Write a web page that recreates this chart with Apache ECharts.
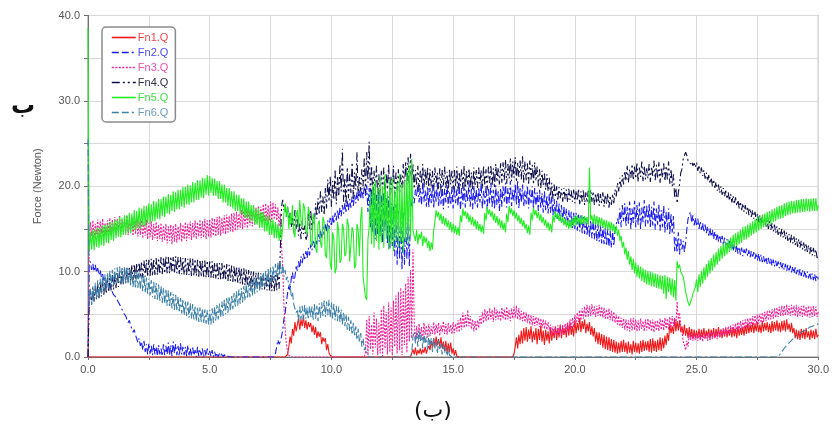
<!DOCTYPE html>
<html>
<head>
<meta charset="utf-8">
<script src="https://cdn.jsdelivr.net/npm/echarts@6/dist/echarts.min.js"></script>
<style>
  html, body { margin: 0; padding: 0; background: #ffffff; }
  #chart { width: 832px; height: 434px; }
</style>
</head>
<body>
<div id="chart"></div>
<script>
// Normal force of each contact (N), sampled every 0.05 s from 0 to 30 s.
// One row per second (20 samples), plus the final sample at 30 s.
const fn1 = [
  0,0,0,0,0,0,0,0,0,0,0,0,0,0,0,0,0,0,0,0,
  0,0,0,0,0,0,0,0,0,0,0,0,0,0,0,0,0,0,0,0,
  0,0,0,0,0,0,0,0,0,0,0,0,0,0,0,0,0,0,0,0,
  0,0,0,0,0,0,0,0,0,0,0,0,0,0,0,0,0,0,0,0,
  0,0,0,0,0,0,0,0,0,0,0,0,0,0,0,0,0,0,0,0,
  0,0,0,0,0,0,0,0,0,0,0,0,0,0,0,0,0,0,0,0,
  0,0,0,0,0,0,0,0,0,0,0,0,0,0,0,0,0,0,0,0,
  0,0,0,0,0,0,0,0,0,0,0,0,0,0,0,0,0,0,0,0,
  0,0,0,0, 0.3,1.2, 2.4,1.6, 3.3,2.5, 4.1,3.0, 3.8,4.6, 3.2,4.4, 3.6,4.8, 3.4,4.3,
  3.2,4.1, 3.5,4.0, 2.9,3.7, 2.6,3.5, 2.2,3.0, 2.4,2.9, 1.5,2.3, 1.8,2.2, 0.8,1.5, 0.5,0.2,
  0,0,0,0,0,0,0,0,0,0,0,0,0,0,0,0,0,0,0,0,
  0,0,0,0,0,0,0,0,0,0,0,0,0,0,0,0,0,0,0,0,
  0,0,0,0,0,0,0,0,0,0,0,0,0,0,0,0,0,0,0,0,
  0,0,0,0,0,0, 0.2,0.9, 0.3,1.1, 0.2,0.8, 0.4,1.0, 0.3,0.9, 0.5,1.2, 0.4,1.0,
  1.3,0.8, 1.9,1.1, 2.2,1.2, 2.4,1.4, 2.1,1.2, 2.3,1.0, 1.8,0.7, 1.9,0.5, 1.6,0.6, 1.7,0.4,
  1.0,0.2, 0.8,0.1, 0,0,0,0,0,0,0,0,0,0,0,0,0,0,0,0,
  0,0,0,0,0,0,0,0,0,0,0,0,0,0,0,0,0,0,0,0,
  0,0,0,0,0,0,0,0,0,0, 0.4,1.2, 2.3,1.0, 2.6,1.5, 3.1,1.6, 3.4,1.9,
  3.5,1.8, 3.2,2.1, 3.6,1.7, 3.0,2.0, 3.4,1.5, 3.3,2.0, 3.7,1.8, 3.1,1.4, 3.2,1.9, 3.0,1.6,
  3.4,1.9, 3.1,2.2, 3.6,2.0, 3.3,2.3, 3.8,2.2, 3.5,2.6, 3.4,2.3, 3.9,2.5, 4.0,2.6, 3.6,2.4,
  4.3,2.8, 4.0,3.1, 4.6,2.9, 4.2,3.3, 4.4,2.8, 3.9,3.0, 4.1,2.6, 3.6,2.4, 3.4,1.8, 2.9,1.5,
  2.9,1.4, 2.7,1.1, 2.6,0.9, 2.4,0.8, 2.3,0.7, 2.1,0.6, 2.0,0.5, 1.8,0.4, 1.7,0.5, 1.9,0.6,
  2.0,0.6, 1.7,0.4, 1.8,0.5, 1.5,0.3, 1.9,0.6, 1.7,0.5, 1.6,0.4, 1.9,0.6, 2.0,0.7, 1.8,0.8,
  1.9,0.6, 2.1,0.5, 2.2,0.7, 1.9,0.6, 2.0,0.8, 2.3,0.7, 2.2,1.0, 2.5,1.4, 2.8,1.9, 3.9,2.8,
  3.6,2.7, 4.5,3.0, 4.2,3.1, 4.3,2.9, 3.6,2.6, 3.8,2.5, 3.4,2.2, 3.5,2.3, 3.3,2.1, 3.2,2.2,
  3.1,2.2, 3.3,2.1, 3.2,2.3, 3.4,2.2, 3.1,2.4, 3.3,2.1, 3.2,2.3, 3.4,2.2, 3.3,2.4, 3.5,2.3,
  3.2,2.2, 3.3,2.4, 3.4,2.3, 3.2,2.5, 3.4,2.3, 3.5,2.4, 3.3,2.2, 3.6,2.5, 3.4,2.6, 3.5,2.5,
  3.7,2.7, 3.9,2.8, 3.8,2.9, 4.0,2.8, 3.9,3.0, 4.1,2.9, 3.8,2.8, 4.2,3.0, 4.0,3.1, 4.1,2.9,
  3.9,2.8, 4.2,3.0, 4.1,3.1, 4.3,3.0, 4.0,2.9, 4.2,3.1, 4.3,3.0, 4.4,3.2, 3.9,2.9, 4.0,2.8,
  3.4,2.2, 3.2,2.1, 3.1,2.0, 3.3,2.2, 3.2,2.1, 3.4,2.3, 3.0,2.0, 3.2,2.2, 3.1,2.1, 3.3,2.3,
  2.6
];

const fn2 = [
  0,10.6, 11.2,10.2, 10.9,10.0, 10.8,9.9, 10.4,9.6, 10.2,9.3, 9.7,8.9, 9.3,8.6, 8.9,8.2, 8.7,7.9,
  7.9,7.3, 7.5,7.0, 6.9,6.4, 6.5,5.9, 5.8,5.2, 5.4,4.8, 4.6,4.0, 4.3,3.7, 3.5,2.9, 3.2,2.6,
  2.4,1.7, 2.2,1.3, 1.8,0.8, 1.9,0.6, 1.5,0.3, 1.6,0.4, 1.3,0.2, 1.5,0.3, 1.2,0.1, 1.4,0.3,
  1.0,0.1, 1.5,0.2, 1.3,0.3, 1.7,0.2, 1.4,0.1, 1.8,0.4, 1.5,0.2, 1.3,0.1, 1.6,0.3, 1.2,0.2,
  1.2,0.1, 1.4,0.2, 1.0,0.1, 1.1,0.2, 0.8,0.0, 1.2,0.1, 0.9,0.2, 1.0,0.0, 0.8,0.1, 1.0,0.2,
  0.7,0.1, 0.8,0.0, 0.6,0.1, 0.5,0.0, 0.4,0.1, 0.5,0.0, 0.3,0.0, 0.2,0.1, 0.1,0, 0,0,
  0,0,0,0,0,0,0,0,0,0,0,0,0,0,0,0,0,0,0,0,
  0,0,0,0,0,0,0,0,0,0,0,0,0,0, 0.4,1.2, 2.0,1.5, 1.8,2.4,
  3.2,4.5, 5.2,6.4, 7.5,8.3, 7.8,9.2, 9.9,8.7, 9.4,10.6, 10.1,11.2, 10.4,11.8, 11.0,12.1, 11.3,12.4,
  11.6,12.8, 11.9,13.2, 12.5,13.6, 12.8,14.0, 13.2,14.4, 13.5,14.9, 13.9,15.3, 14.3,15.6, 14.6,16.0, 15.0,16.3,
  15.3,16.6, 15.6,16.9, 16.0,17.2, 16.2,17.5, 16.5,17.8, 16.8,18.0, 17.0,18.3, 17.2,18.5, 17.5,18.8, 17.7,19.0,
  18.0,19.3, 18.3,19.5, 18.5,19.8, 18.6,20.0, 18.9,20.1, 17.0,19.8, 15.2,19.6, 14.6,19.4, 13.8,19.0, 14.4,19.5,
  14.1,18.9, 13.4,19.2, 14.8,18.6, 13.2,18.8, 12.6,18.0, 13.0,17.6, 11.8,17.9, 10.8,17.2, 11.4,16.6, 10.2,16.9,
  10.8,15.8, 11.5,16.5, 10.6,17.2, 17.4,18.8, 18.0,19.6, 18.8,20.2, 18.1,19.8, 17.8,20.4, 18.2,19.5, 17.6,20.0,
  17.5,19.8, 18.0,20.3, 17.4,19.6, 18.2,20.5, 17.6,19.4, 17.9,20.1, 17.3,19.7, 18.1,20.2, 17.5,19.3, 17.8,19.9,
  17.4,20.0, 18.0,19.6, 17.7,20.4, 17.2,19.8, 17.9,20.2, 17.5,19.5, 18.2,20.5, 17.6,19.7, 17.3,20.1, 17.8,19.6,
  17.5,19.9, 18.1,20.3, 17.4,19.5, 17.9,20.0, 17.2,19.7, 18.0,20.4, 17.6,19.6, 17.3,20.1, 17.8,19.4, 17.1,19.8,
  17.6,20.0, 18.2,20.4, 17.5,19.8, 18.0,20.6, 17.7,19.6, 18.3,20.3, 17.8,20.7, 17.4,19.9, 18.1,20.2, 17.6,19.5,
  17.9,20.1, 17.4,19.6, 18.0,20.0, 17.3,19.8, 17.7,19.3, 17.1,19.6, 17.5,19.2, 16.9,19.4, 17.2,18.9, 16.8,19.1,
  16.9,18.8, 16.6,18.5, 16.4,18.3, 16.2,18.0, 16.0,17.8, 15.8,17.6, 15.6,17.4, 15.4,17.2, 15.3,17.0, 15.1,16.9,
  15.0,16.9, 14.8,16.7, 14.7,16.6, 14.5,16.4, 14.4,16.3, 14.2,16.1, 14.1,16.0, 13.9,15.9, 13.8,15.7, 13.6,15.6,
  13.5,15.4, 13.3,15.3, 13.2,15.1, 13.0,15.0, 12.9,14.8, 12.8,14.7, 13.0,14.9, 14.8,16.2, 15.6,17.4, 15.2,17.8,
  15.9,18.0, 15.3,17.6, 15.6,18.2, 15.0,17.4, 15.7,18.3, 15.2,17.8, 15.5,18.1, 15.0,17.5, 15.8,18.4, 15.3,17.7,
  15.6,18.0, 15.1,17.6, 15.4,18.2, 14.9,17.4, 15.5,17.9, 14.8,17.2, 15.2,17.7, 14.6,17.0, 14.9,17.4, 14.3,16.8,
  14.6,16.5, 12.4,14.0, 12.2,14.6, 12.0,13.8, 12.6,13.6, 12.3,13.4, 15.0,16.2, 16.1,17.0, 15.7,16.6, 15.4,16.3,
  15.3,16.2, 15.0,15.9, 14.9,15.7, 14.6,15.5, 14.5,15.3, 14.2,15.1, 14.1,14.9, 13.8,14.7, 13.7,14.5, 13.5,14.3,
  13.4,14.2, 13.1,14.0, 13.0,13.8, 12.8,13.6, 12.7,13.4, 12.4,13.3, 12.3,13.1, 12.1,12.9, 12.0,12.8, 11.8,12.6,
  12.0,12.7, 11.8,12.5, 11.7,12.4, 11.6,12.3, 11.5,12.2, 11.3,12.1, 11.2,12.0, 11.1,11.8, 11.0,11.7, 10.9,11.6,
  10.8,11.5, 10.7,11.4, 10.6,11.3, 10.5,11.2, 10.4,11.1, 10.3,11.0, 10.2,10.9, 10.1,10.8, 10.0,10.7, 9.9,10.6,
  9.8,10.5, 9.7,10.4, 9.6,10.3, 9.5,10.2, 9.4,10.1, 9.3,10.0, 9.2,9.9, 9.1,9.8, 9.0,9.7, 8.9,9.6,
  9.1
];

const fn3 = [
  0,13.6, 15.8,14.2, 16.0,13.9, 15.6,14.4, 16.1,14.0, 15.9,14.5, 16.2,14.1, 15.7,14.3, 16.0,14.6, 16.3,14.2,
  16.1,14.5, 16.4,14.3, 16.2,14.7, 16.5,14.4, 16.0,14.6, 16.3,14.8, 16.6,14.3, 16.1,14.5, 16.4,14.2, 15.9,14.4,
  16.2,14.1, 15.9,14.3, 16.0,13.9, 15.8,14.2, 16.1,13.8, 15.7,14.0, 15.9,13.7, 15.6,13.9, 15.8,13.6, 15.5,13.8,
  15.7,13.5, 15.4,13.7, 15.6,13.3, 15.3,13.6, 15.5,13.2, 15.4,13.5, 15.6,13.4, 15.3,13.7, 15.7,13.5, 15.5,13.8,
  15.8,13.6, 15.6,13.9, 15.9,13.7, 15.7,14.0, 16.0,13.8, 15.8,14.1, 16.1,13.9, 15.9,14.0, 16.2,13.8, 16.0,14.1,
  16.1,14.0, 16.3,14.2, 16.2,14.1, 16.4,14.3, 16.5,14.2, 16.3,14.5, 16.6,14.4, 16.7,14.6, 16.5,14.7, 16.8,14.6,
  16.9,14.8, 17.0,14.9, 16.8,15.1, 17.2,15.0, 17.1,15.2, 17.3,15.1, 17.4,15.4, 17.2,15.3, 17.6,15.5, 17.5,15.6,
  17.7,15.5, 17.6,15.8, 17.9,15.7, 18.0,15.9, 17.8,16.0, 18.2,15.8, 18.1,16.1, 17.9,16.0, 17.5,15.3, 16.8,13.0,
  10.5,6.0, 3.2,1.5, 0.6,0.2, 0,0,0,0,0,0,0,0,0,0,0,0,0,0,
  0,0,0,0,0,0,0,0,0,0,0,0,0,0,0,0,0,0,0,0,
  0,0,0,0,0,0,0,0,0,0,0,0,0,0,0,0,0,0,0,0,
  0,0,0,0,0,0,0,0, 0.6,4.4, 0.2,4.8, 0.9,3.8, 0.3,5.2, 1.1,4.5, 0.2,4.0,
  0.4,5.6, 0.1,6.0, 1.0,5.3, 0.3,6.4, 0.6,5.8, 0.2,6.6, 1.2,7.2, 0.4,7.6, 0.8,8.1, 0.2,7.8,
  1.4,8.6, 0.5,9.4, 1.8,10.2, 2.2,12.6, 4.1,1.8, 3.6,2.2, 3.9,2.4, 3.5,2.0, 4.0,2.6, 3.7,2.3,
  3.9,2.5, 3.6,2.7, 4.1,2.6, 3.8,2.8, 4.0,2.5, 3.7,2.9, 4.2,2.7, 3.9,2.6, 4.0,2.9, 3.8,2.7,
  4.1,2.8, 3.9,3.0, 4.3,2.9, 4.6,3.2, 5.2,3.4, 4.9,3.5, 5.5,3.6, 4.8,3.3, 4.4,3.0, 4.2,3.1,
  4.3,3.4, 4.8,3.8, 5.3,4.0, 5.6,4.2, 5.4,4.3, 5.7,4.4, 5.5,4.1, 5.8,4.3, 5.6,4.4, 5.4,4.2,
  5.8,4.5, 5.6,4.3, 5.9,4.4, 5.5,4.2, 5.7,4.5, 5.9,4.6, 6.0,4.4, 5.7,4.3, 5.4,4.2, 5.3,4.1,
  5.2,4.0, 5.0,3.8, 4.9,3.7, 4.8,3.6, 4.7,3.7, 4.6,3.5, 4.5,3.4, 4.4,3.3, 4.3,3.2, 4.1,3.1,
  3.8,2.7, 3.6,2.6, 3.5,2.5, 3.7,2.7, 3.6,2.5, 3.8,2.6, 3.9,2.8, 4.1,3.0, 4.4,3.3, 4.6,3.5,
  4.9,3.9, 5.2,4.1, 5.5,4.3, 5.7,4.5, 5.9,4.6, 6.1,4.7, 6.0,4.8, 6.2,4.9, 5.9,4.7, 6.0,4.8,
  6.1,4.7, 5.9,4.6, 5.8,4.5, 5.6,4.4, 5.7,4.3, 5.4,4.2, 5.3,4.0, 5.0,3.8, 4.8,3.6, 4.6,3.4,
  4.5,3.2, 4.4,3.1, 4.3,3.0, 4.5,3.1, 4.6,3.2, 4.4,3.0, 4.3,3.1, 4.5,3.3, 4.2,3.0, 4.4,3.1,
  4.5,3.2, 4.3,3.0, 4.4,2.9, 4.2,3.1, 4.3,3.0, 4.5,3.2, 4.4,3.1, 4.6,3.3, 4.5,3.2, 4.7,3.4,
  4.8,3.6, 4.6,3.5, 6.5,4.4, 5.2,3.6, 3.0,1.8, 1.4,0.8, 1.9,1.2, 2.8,2.0, 2.6,1.9, 2.8,2.0,
  2.7,1.9, 2.8,2.0, 2.6,1.8, 2.9,2.1, 2.7,1.9, 2.8,2.0, 2.9,2.1, 3.0,2.2, 2.9,2.1, 3.1,2.3,
  3.2,2.4, 3.4,2.5, 3.5,2.6, 3.6,2.7, 3.7,2.8, 3.8,2.9, 3.9,3.0, 4.1,3.1, 4.2,3.2, 4.3,3.3,
  4.4,3.4, 4.5,3.5, 4.6,3.6, 4.8,3.7, 4.9,3.8, 5.0,3.9, 5.1,4.0, 5.2,4.1, 5.3,4.2, 5.4,4.3,
  5.5,4.4, 5.6,4.5, 5.7,4.6, 5.8,4.7, 5.9,4.8, 6.0,4.8, 6.0,4.9, 6.1,4.9, 6.0,4.8, 6.1,4.9,
  6.0,4.8, 6.1,4.7, 5.9,4.8, 6.0,4.7, 6.1,4.8, 5.9,4.7, 6.0,4.6, 5.9,4.7, 6.0,4.8, 5.9,4.7,
  5.3
];

const fn4 = [
  0,6.0, 7.8,6.2, 8.1,6.5, 8.3,6.7, 8.6,6.9, 8.8,7.1, 9.0,7.3, 9.1,7.4, 9.3,7.6, 9.4,7.8,
  9.6,7.9, 9.7,8.1, 9.9,8.2, 10.0,8.4, 10.2,8.5, 10.3,8.7, 10.5,8.8, 10.6,8.9, 10.8,9.0, 10.9,9.1,
  11.0,9.2, 11.1,9.3, 11.2,9.3, 11.3,9.4, 11.4,9.4, 11.4,9.5, 11.5,9.5, 11.5,9.6, 11.6,9.6, 11.6,9.7,
  11.7,9.7, 11.7,9.8, 11.8,9.8, 11.7,9.8, 11.8,9.9, 11.7,9.8, 11.8,9.8, 11.7,9.7, 11.7,9.7, 11.6,9.6,
  11.6,9.6, 11.5,9.6, 11.6,9.5, 11.5,9.5, 11.5,9.5, 11.4,9.4, 11.4,9.4, 11.3,9.4, 11.3,9.3, 11.3,9.3,
  11.2,9.3, 11.2,9.2, 11.1,9.2, 11.1,9.1, 11.0,9.1, 11.0,9.0, 10.9,9.0, 10.9,8.9, 10.8,8.9, 10.7,8.8,
  10.7,8.7, 10.6,8.7, 10.5,8.6, 10.4,8.5, 10.4,8.4, 10.3,8.3, 10.2,8.3, 10.1,8.2, 10.0,8.1, 9.9,8.0,
  9.9,8.0, 9.8,7.9, 9.7,7.9, 9.7,7.8, 9.6,7.8, 9.6,7.7, 9.5,7.7, 9.6,7.8, 9.8,8.0, 12.5,17.6,
  18.4,17.2, 17.8,16.4, 17.6,15.8, 16.9,15.2, 16.4,14.6, 17.2,15.0, 16.6,14.2, 15.8,13.8, 16.0,14.4, 15.4,13.6,
  14.2,16.8, 15.0,17.2, 14.8,16.4, 15.6,18.0, 16.2,18.6, 16.8,19.4, 17.0,18.8, 16.6,19.8, 17.4,20.8, 18.2,21.2,
  17.6,20.6, 18.4,22.0, 17.9,21.2, 18.8,22.6, 19.4,24.4, 18.2,21.0, 17.6,22.2, 18.6,21.4, 19.2,22.8, 18.4,21.6,
  19.6,24.0, 18.8,21.2, 19.4,22.0, 20.0,23.4, 19.2,24.0, 20.4,25.2, 19.0,22.4, 18.8,21.8, 19.4,22.4, 18.6,21.4,
  18.9,21.8, 19.4,22.2, 18.7,21.5, 19.6,22.6, 18.8,21.2, 19.2,22.4, 18.6,21.6, 19.5,22.0, 19.0,21.4, 19.8,22.6,
  19.6,22.9, 20.2,23.4, 19.8,23.8, 20.4,22.6, 19.7,21.9, 20.2,22.4, 19.5,21.8, 20.3,22.6, 19.8,22.0, 20.1,22.2,
  19.6,22.0, 20.0,21.8, 19.5,22.2, 20.2,21.6, 19.7,22.1, 19.4,21.9, 20.1,22.3, 19.8,21.7, 19.3,22.0, 20.2,21.8,
  19.6,21.9, 20.0,22.3, 19.4,21.7, 20.1,22.0, 19.7,22.4, 19.5,21.8, 20.2,22.1, 19.8,21.6, 19.5,22.2, 20.0,21.9,
  19.8,22.2, 20.3,21.9, 19.7,22.4, 20.1,22.0, 19.6,22.3, 20.4,22.5, 20.0,22.1, 19.8,22.6, 20.5,22.2, 20.2,22.7,
  20.4,22.8, 20.7,23.1, 20.3,22.6, 20.9,23.3, 20.6,22.9, 21.0,23.4, 20.5,22.8, 21.1,23.0, 20.8,23.5, 20.4,22.9,
  20.7,22.7, 20.3,23.0, 20.8,22.5, 20.2,22.8, 20.6,22.3, 20.0,22.0, 19.8,21.8, 20.1,21.5, 19.6,21.4, 19.4,21.0,
  18.8,20.4, 18.5,20.2, 18.7,20.0, 18.3,19.9, 18.6,19.7, 18.2,19.8, 18.5,19.6, 18.1,19.7, 18.4,19.5, 18.2,19.6,
  18.0,19.5, 18.3,19.7, 17.9,19.4, 18.2,19.6, 17.8,19.3, 18.1,19.5, 17.9,19.6, 18.2,19.4, 17.8,19.2, 18.0,19.3,
  17.7,19.1, 18.0,19.3, 17.6,19.0, 17.9,19.2, 17.5,18.9, 17.8,19.1, 18.0,19.6, 18.8,20.4, 19.4,21.0, 19.9,21.3,
  20.2,21.8, 20.6,22.4, 20.4,22.0, 21.0,22.6, 20.7,22.3, 20.9,22.8, 20.5,22.2, 21.1,22.9, 20.6,22.4, 20.8,22.1,
  20.9,22.6, 20.5,22.3, 21.2,23.0, 20.7,22.5, 20.9,22.8, 20.4,22.2, 21.0,22.7, 20.6,22.4, 20.8,22.9, 20.3,22.0,
  20.0,21.4, 18.6,19.8, 18.0,19.2, 20.2,21.6, 22.0,23.2, 23.0,24.0, 23.6,23.0, 23.2,22.6, 22.9,22.4, 22.7,22.2,
  22.8,21.8, 22.5,21.5, 22.2,21.2, 21.9,20.9, 21.6,20.6, 21.3,20.3, 21.0,20.0, 20.8,19.8, 20.5,19.5, 20.2,19.2,
  20.0,19.0, 19.8,18.8, 19.5,18.5, 19.3,18.3, 19.1,18.1, 18.9,17.9, 18.7,17.7, 18.4,17.4, 18.2,17.2, 18.0,17.0,
  17.8,16.8, 17.6,16.6, 17.4,16.4, 17.2,16.2, 17.0,16.0, 16.8,15.8, 16.6,15.6, 16.4,15.4, 16.2,15.2, 16.0,15.0,
  15.9,14.9, 15.7,14.7, 15.5,14.5, 15.3,14.3, 15.1,14.1, 15.0,14.0, 14.8,13.8, 14.6,13.6, 14.4,13.4, 14.3,13.3,
  14.1,13.1, 13.9,12.9, 13.8,12.8, 13.6,12.6, 13.4,12.4, 13.3,12.3, 13.1,12.1, 12.9,11.9, 12.8,11.8, 12.6,11.6,
  12.0
];

const fn5 = [
  38.5,12.4, 14.6,12.6, 14.9,12.5, 14.8,12.9, 15.2,12.8, 15.1,13.1, 15.4,13.0, 15.5,13.4, 15.5,13.3, 15.8,13.7,
  15.8,13.6, 16.1,13.9, 16.0,14.1, 16.4,14.0, 16.3,14.3, 16.6,14.3, 16.6,14.6, 16.9,14.5, 16.8,14.9, 17.2,14.8,
  17.1,15.1, 17.5,15.0, 17.4,15.4, 17.7,15.3, 17.7,15.7, 18.0,15.6, 17.9,15.9, 18.3,15.9, 18.2,16.2, 18.5,16.1,
  18.5,16.5, 18.8,16.4, 18.8,16.8, 19.1,16.7, 19.0,17.1, 19.4,17.0, 19.3,17.3, 19.6,17.3, 19.6,17.6, 19.9,17.5,
  19.9,17.9, 20.2,17.8, 20.1,18.1, 20.5,18.1, 20.4,18.4, 20.7,18.4, 20.7,18.7, 21.0,18.6, 20.9,19.0, 21.3,18.9,
  21.2,19.2, 21.0,18.9, 20.9,18.9, 20.6,18.5, 20.6,18.5, 20.2,18.1, 20.2,18.1, 19.8,17.7, 19.8,17.6, 19.4,17.4,
  19.4,17.1, 19.0,17.1, 19.0,16.7, 18.6,16.7, 18.6,16.3, 18.2,16.3, 18.2,15.9, 17.8,15.9, 17.8,15.5, 17.4,15.5,
  17.4,15.1, 17.0,15.1, 17.0,14.7, 16.6,14.7, 16.6,14.3, 16.2,14.3, 16.1,13.9, 15.8,13.9, 15.6,13.6, 15.3,13.7,
  15.2,16.8, 18.0,16.4, 17.6,15.0, 16.8,15.6, 17.8,14.6, 14.0,16.6, 17.2,15.2, 18.4,16.0, 15.2,18.0, 17.4,14.8,
  14.4,17.6, 16.8,13.4, 13.0,16.8, 16.2,12.8, 12.2,15.6, 16.0,13.4, 12.8,16.4, 15.8,12.0, 11.6,15.4, 14.8,11.0,
  10.2,14.6, 13.8,9.8, 10.4,15.8, 14.8,11.0, 11.4,15.6, 15.0,11.8, 12.2,16.2, 15.4,11.2, 11.0,15.2, 14.6,10.4,
  10.8,15.6, 14.8,11.8, 16.2,17.6, 9.4,8.2, 7.0,6.7, 13.8,15.2, 19.4,13.2, 20.2,12.8, 20.6,13.6, 19.8,12.6,
  21.2,13.4, 20.0,12.8, 21.4,13.8, 19.4,12.6, 20.8,13.2, 21.0,12.4, 19.6,13.6, 20.4,12.8, 21.4,13.4, 20.2,12.2,
  20.6,13.6, 21.8,13.2, 22.4,14.2, 23.2,14.8, 14.6,13.6, 14.9,13.2, 14.4,13.8, 14.7,13.0, 14.2,13.4, 14.0,12.8,
  13.6,12.4, 13.4,12.6, 14.8,15.8, 17.2,16.4, 17.0,16.0, 16.8,15.6, 16.5,15.4, 16.3,15.2, 16.0,14.9, 15.8,14.6,
  15.6,14.5, 15.4,14.3, 15.2,14.2, 16.6,15.8, 17.4,16.5, 17.1,16.2, 16.9,15.8, 16.6,15.5, 16.4,15.3, 16.1,15.0,
  15.9,14.8, 15.6,14.6, 15.4,14.4, 16.9,16.0, 17.6,16.7, 17.3,16.4, 17.1,16.0, 16.8,15.7, 16.5,15.4, 16.2,15.1,
  16.0,14.9, 15.7,14.6, 16.8,15.8, 17.7,16.8, 17.4,16.5, 17.2,16.2, 16.9,15.9, 16.6,15.6, 16.3,15.3, 16.0,15.0,
  15.6,14.5, 15.4,14.3, 16.9,16.0, 17.5,16.6, 17.2,16.3, 17.0,16.0, 16.7,15.7, 16.4,15.4, 16.1,15.1, 15.8,14.8,
  15.6,14.6, 16.6,15.8, 17.1,16.2, 16.9,15.9, 16.7,15.7, 16.4,15.4, 16.2,15.2, 16.0,15.0, 16.1,15.1, 16.3,15.3,
  16.5,15.4, 16.6,15.5, 16.4,15.5, 16.6,15.6, 16.5,15.6, 16.4,15.4, 22.2,16.0, 16.6,15.6, 16.7,15.5, 16.5,15.4,
  16.4,15.3, 16.3,15.2, 16.1,15.0, 16.0,14.9, 15.9,14.8, 15.8,14.7, 15.6,14.5, 15.4,14.2, 14.9,13.6, 14.2,12.8,
  13.5,12.0, 12.8,11.4, 12.4,10.8, 11.8,10.2, 11.5,9.8, 11.1,9.4, 10.8,9.2, 10.6,8.9, 10.4,8.7, 10.2,8.5,
  10.1,8.4, 10.0,8.3, 9.9,8.2, 9.8,8.1, 9.7,8.0, 9.6,7.9, 9.5,7.4, 9.6,6.8, 9.4,7.6, 9.3,7.2,
  9.2,7.0, 9.0,6.6, 11.2,10.4, 10.8,10.0, 10.2,9.4, 8.6,7.6, 7.0,6.4, 6.0,5.8, 6.8,7.4, 7.8,8.2,
  9.1,7.6, 9.7,8.2, 10.1,8.6, 10.5,9.0, 10.9,9.4, 11.3,9.8, 11.6,10.1, 12.0,10.5, 12.3,10.8, 12.7,11.2,
  13.0,11.5, 13.3,11.8, 13.5,12.0, 13.8,12.3, 14.0,12.5, 14.3,12.8, 14.5,13.0, 14.7,13.2, 14.9,13.4, 15.2,13.7,
  15.3,13.8, 15.5,14.0, 15.7,14.2, 15.9,14.4, 16.1,14.6, 16.3,14.8, 16.5,15.0, 16.7,15.2, 16.8,15.3, 17.0,15.5,
  17.1,15.6, 17.3,15.8, 17.4,15.9, 17.6,16.1, 17.7,16.2, 17.8,16.3, 18.0,16.5, 18.1,16.6, 18.2,16.7, 18.3,16.8,
  18.3,16.8, 18.4,16.9, 18.4,16.9, 18.5,17.0, 18.5,17.0, 18.6,17.1, 18.5,17.0, 18.6,17.1, 18.6,17.1, 18.6,17.1,
  17.8
];

const fn6 = [
  25.5,5.8, 8.0,6.1, 8.3,6.5, 8.7,6.8, 9.0,7.1, 9.2,7.4, 9.5,7.7, 9.7,7.9, 9.9,8.1, 10.1,8.3,
  10.2,8.4, 10.4,8.6, 10.5,8.6, 10.6,8.7, 10.6,8.7, 10.5,8.6, 10.4,8.5, 10.3,8.4, 10.1,8.2, 10.0,8.0,
  10.0,8.1, 9.9,7.9, 9.7,7.7, 9.5,7.5, 9.3,7.4, 9.2,7.2, 9.0,7.0, 8.8,6.8, 8.7,6.7, 8.5,6.5,
  8.3,6.3, 8.1,6.2, 8.0,6.0, 7.8,5.8, 7.6,5.7, 7.4,5.5, 7.3,5.4, 7.1,5.2, 6.9,5.1, 6.8,4.9,
  6.6,4.8, 6.5,4.6, 6.3,4.5, 6.2,4.4, 6.0,4.2, 5.9,4.1, 5.8,4.0, 5.7,3.9, 5.6,3.9, 5.5,3.8,
  5.5,3.8, 5.7,4.0, 5.9,4.2, 6.1,4.4, 6.3,4.6, 6.5,4.8, 6.7,5.0, 6.9,5.2, 7.1,5.4, 7.3,5.6,
  7.5,5.8, 7.7,6.0, 7.9,6.2, 8.1,6.4, 8.3,6.6, 8.5,6.8, 8.7,7.0, 8.9,7.2, 9.1,7.4, 9.3,7.6,
  9.5,7.8, 9.7,8.0, 9.9,8.2, 10.1,8.4, 10.3,8.6, 10.5,8.8, 10.7,9.0, 10.9,9.2, 11.1,9.5, 11.0,9.6,
  10.8,9.4, 10.2,9.0, 9.4,8.2, 8.6,7.0, 7.6,6.2, 6.4,5.2, 5.6,4.2, 5.9,4.4, 6.0,4.3, 6.1,4.5,
  5.8,4.4, 6.0,4.6, 5.9,4.3, 6.2,4.5, 6.0,4.2, 6.3,4.6, 6.4,4.8, 6.6,4.7, 6.5,4.9, 6.7,4.6,
  6.4,4.5, 6.2,4.3, 6.0,4.2, 5.9,4.1, 5.6,3.8, 5.3,3.6, 5.0,3.2, 4.7,3.0, 4.3,2.6, 4.0,2.4,
  3.6,2.0, 3.3,1.7, 2.8,1.2, 2.2,0.8, 1.2,0.2, 0,0,0,0,0,0,0,0,0,0,
  0,0,0,0,0,0,0,0,0,0,0,0,0,0,0,0,0,0,0,0,
  0,0,0,0,0,0, 0.6,2.4, 3.0,1.6, 2.8,1.2, 3.2,1.8, 2.6,1.0, 2.9,1.5, 2.4,0.8,
  2.6,1.2, 2.2,0.6, 2.3,1.0, 1.8,0.4, 2.0,0.8, 1.5,0.3, 1.6,0.5, 1.1,0.1, 1.0,0.2, 0.4,0,
  0,0,0,0,0,0,0,0,0,0,0,0,0,0,0,0,0,0,0,0,
  0,0,0,0,0,0,0,0,0,0,0,0,0,0,0,0,0,0,0,0,
  0,0,0,0,0,0,0,0,0,0,0,0,0,0,0,0,0,0,0,0,
  0,0,0,0,0,0,0,0,0,0,0,0,0,0,0,0,0,0,0,0,
  0,0,0,0,0,0,0,0,0,0,0,0,0,0,0,0,0,0,0,0,
  0,0,0,0,0,0,0,0,0,0,0,0,0,0,0,0,0,0,0,0,
  0,0,0,0,0,0,0,0,0,0,0,0,0,0,0,0,0,0,0,0,
  0,0,0,0,0,0,0,0,0,0,0,0,0,0,0,0,0,0,0,0,
  0,0,0,0,0,0,0,0,0,0,0,0,0,0,0,0,0,0,0,0,
  0,0,0,0,0,0,0,0,0,0,0,0,0,0,0,0,0,0,0,0,
  0,0,0,0,0,0,0,0,0,0,0,0,0,0,0,0,0,0,0,0,
  0,0,0,0,0,0,0,0,0,0,0,0,0,0,0,0,0,0,0,0,
  0,0,0,0,0,0,0,0,0,0,0,0,0,0,0,0,0,0,0,0,
  0,0,0,0,0,0,0,0, 0.2,0.4, 0.6,0.8, 1.0,1.2, 1.4,1.5, 1.6,1.8, 2.0,2.1,
  2.2,2.4, 2.5,2.6, 2.7,2.8, 2.9,3.0, 3.1,3.1, 3.2,3.3, 3.4,3.5, 3.5,3.6, 3.7,3.7, 3.8,3.8,
  3.9
];

// Sample times (s), 0.05 s apart
const time = fn1.map((_, i) => i / 20);

const seriesNames = ['Fn1.Q', 'Fn2.Q', 'Fn3.Q', 'Fn4.Q', 'Fn5.Q', 'Fn6.Q'];
const seriesValues = [fn1, fn2, fn3, fn4, fn5, fn6];
const seriesColors = ['#f01818', '#1c1cf0', '#f0209a', '#10104e', '#22ec22', '#3d80aa'];
const legendTextColors = ['#f04848', '#4a4af0', '#f050b0', '#303048', '#40e040', '#6a9ac0'];
const dashStyles = ['solid', [7, 3, 7, 3, 2, 3], [2, 1.5], [8, 3, 2, 3, 2, 3], 'solid', [7, 3, 7, 3, 2, 3]];

const chart = echarts.init(document.getElementById('chart'), null, { renderer: 'canvas' });

const option = {
  animation: false,
  backgroundColor: '#ffffff',
  grid: {
    left: 88, right: 10, top: 15.5, bottom: 77,
    show: true, borderColor: '#8c8c8c', borderWidth: 1
  },
  legend: {
    orient: 'vertical',
    left: 102, top: 27,
    padding: [5, 7, 4, 9],
    itemWidth: 24, itemHeight: 11, itemGap: 4,
    backgroundColor: '#ffffff',
    borderColor: '#8a8a8a', borderWidth: 1.5, borderRadius: 4,
    itemStyle: { opacity: 0 },
    lineStyle: { width: 1.6 },
    textStyle: { fontFamily: 'Liberation Sans, Arial, sans-serif', fontSize: 11, padding: [0, 0, 0, -3] },
    data: seriesNames.map((n, i) => ({ name: n, textStyle: { color: legendTextColors[i] } }))
  },
  xAxis: {
    type: 'value', min: 0, max: 30, interval: 2.5,
    axisLine: { lineStyle: { color: '#707070' } },
    axisTick: { show: true, length: 3, lineStyle: { color: '#707070' } },
    axisLabel: {
      color: '#555', fontSize: 11, margin: 7,
      fontFamily: 'Liberation Sans, Arial, sans-serif',
      formatter: v => (v % 5 === 0 ? v.toFixed(1) : '')
    },
    splitLine: { show: true, lineStyle: { color: '#d9d9d9', width: 1 } }
  },
  yAxis: {
    type: 'value', min: 0, max: 40, interval: 5,
    name: 'Force (Newton)', nameLocation: 'middle', nameGap: 45,
    nameTextStyle: { color: '#555', fontSize: 11, fontFamily: 'Liberation Sans, Arial, sans-serif' },
    axisLine: { show: true, lineStyle: { color: '#707070' } },
    axisTick: { show: true, length: 4, lineStyle: { color: '#707070' } },
    axisLabel: {
      color: '#555', fontSize: 11, margin: 8,
      fontFamily: 'Liberation Sans, Arial, sans-serif',
      formatter: v => (v % 10 === 0 ? v.toFixed(1) : '')
    },
    splitLine: { show: true, lineStyle: { color: '#d9d9d9', width: 1 } }
  },
  graphic: [
    {
      type: 'text', left: 11, top: 95,
      style: { text: 'ب', font: 'bold 24px "DejaVu Sans"', fill: '#111' }
    },
    {
      type: 'text', left: 414, top: 400,
      style: { text: '(ب)', font: '22px "DejaVu Sans"', fill: '#111' }
    }
  ],
  series: seriesNames.map((n, i) => ({
    name: n,
    type: 'line',
    symbol: 'none',
    sampling: null,
    color: seriesColors[i],
    lineStyle: { width: 1.1, color: seriesColors[i], type: dashStyles[i] },
    data: seriesValues[i].map((v, k) => [time[k], v])
  }))
};

chart.setOption(option);
</script>
</body>
</html>
